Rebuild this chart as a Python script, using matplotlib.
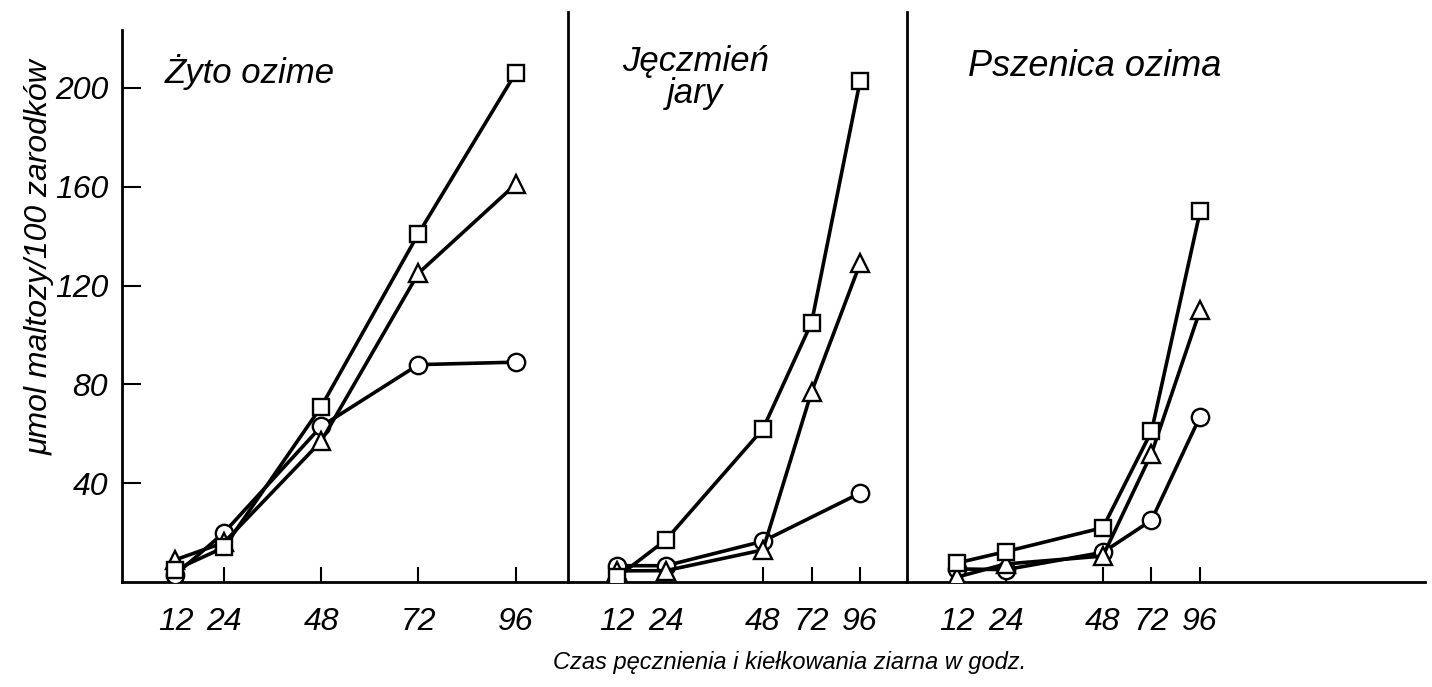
import numpy as np
import matplotlib
matplotlib.use("Agg")
import matplotlib.pyplot as plt

plt.rcParams['font.family'] = ['Liberation Sans', 'DejaVu Sans']
plt.rcParams['font.style'] = 'italic'

# hours of swelling / germination
hours = [12, 24, 48, 72, 96]
hour_labels = ['12', '24', '48', '72', '96']

# Żyto ozime
rye_sq = [5, 14, 71, 141, 206]
rye_tri = [9, 16, 57, 125, 161]
rye_circ = [3, 20, 63, 88, 89]

# Jęczmień jary (circle series has no 72 h point)
barley_sq = [2, 17, 62, 105, 203]
barley_tri = [4.5, 4.6, 13, 77, 129]
barley_circ_hours = [12, 24, 48, 96]
barley_circ = [6.6, 6.6, 16.5, 36]

# Pszenica ozima
wheat_sq = [7.7, 12.3, 22, 61, 150]
wheat_tri = [2, 7.3, 10.5, 52, 110]
wheat_circ = [5.3, 5, 12, 25, 67]

y_ticks = [40, 80, 120, 160, 200]


# panels 2 and 3 squeeze the time axis after 48 h
def fwd(x):
    x = np.asarray(x, dtype=float)
    return np.where(x <= 48, x, 48 + (x - 48) * 0.5)


def inv(y):
    y = np.asarray(y, dtype=float)
    return np.where(y <= 48, y, 48 + (y - 48) * 2)


fig = plt.figure(figsize=(14.32, 6.87), dpi=100)
widths = [110.2, 83.7, 127.9]
gs = fig.add_gridspec(1, 3, width_ratios=widths, wspace=0,
                      left=122 / 1432, right=1425 / 1432,
                      bottom=1 - 582 / 687, top=1 - 12 / 687)
axes = [fig.add_subplot(gs[0, i]) for i in range(3)]

ymax = (582 - 12) / 2.47

line_kw = dict(color='black', lw=2.6, mfc='white', mec='black', mew=1.7, zorder=3)


def draw(ax, sq, tri, circ, circ_x=None):
    if circ_x is None:
        circ_x = hours
    ax.plot(circ_x, circ, marker='o', ms=12.5, **line_kw)
    ax.plot(hours, tri, marker='^', ms=13.5, **line_kw)
    ax.plot(hours, sq, marker='s', ms=11.5, **line_kw)


draw(axes[0], rye_sq, rye_tri, rye_circ)
draw(axes[1], barley_sq, barley_tri, barley_circ, barley_circ_hours)
draw(axes[2], wheat_sq, wheat_tri, wheat_circ)

axes[1].set_xscale('function', functions=(fwd, inv))
axes[2].set_xscale('function', functions=(fwd, inv))

axes[0].set_xlim(-1.2, -1.2 + widths[0])
axes[1].set_xlim(-0.1, float(inv(-0.1 + widths[1])))
axes[2].set_xlim(-0.35, float(inv(-0.35 + widths[2])))

for i, ax in enumerate(axes):
    ax.set_ylim(0, ymax)
    ax.spines['top'].set_visible(False)
    ax.spines['right'].set_visible(False)
    ax.spines['left'].set_linewidth(2.0)
    ax.spines['bottom'].set_linewidth(2.0)
    ax.set_xticks(hours)
    ax.set_xticklabels(hour_labels)
    ax.xaxis.set_minor_locator(matplotlib.ticker.NullLocator())
    ax.tick_params(axis='x', direction='in', length=11, width=1.5,
                   pad=18, labelsize=23)
    if i == 0:
        ax.set_yticks(y_ticks)
        ax.set_yticklabels([str(v) for v in y_ticks])
        ax.tick_params(axis='y', direction='in', length=14, width=1.5,
                       pad=10, labelsize=23)
        ax.spines['left'].set_bounds(0, (582 - 30) / 2.47)
    else:
        ax.tick_params(axis='y', left=False, labelleft=False)

axes[0].text(0.095, 0.895, 'Żyto ozime', transform=axes[0].transAxes,
             fontsize=25, ha='left', va='center')
axes[1].text(0.375, 0.885, 'Jęczmień\njary', transform=axes[1].transAxes,
             fontsize=25, ha='center', va='center', linespacing=0.95)
axes[2].text(0.118, 0.905, 'Pszenica ozima', transform=axes[2].transAxes,
             fontsize=26, ha='left', va='center')

fig.text(40 / 1432, 1 - 257 / 687, 'μmol maltozy/100 zarodków',
         rotation=90, fontsize=23, ha='center', va='center')
fig.text(790 / 1432, 1 - 662 / 687, 'Czas pęcznienia i kiełkowania ziarna w godz.',
         fontsize=17, ha='center', va='center')

fig.savefig('out.png', dpi=100)
